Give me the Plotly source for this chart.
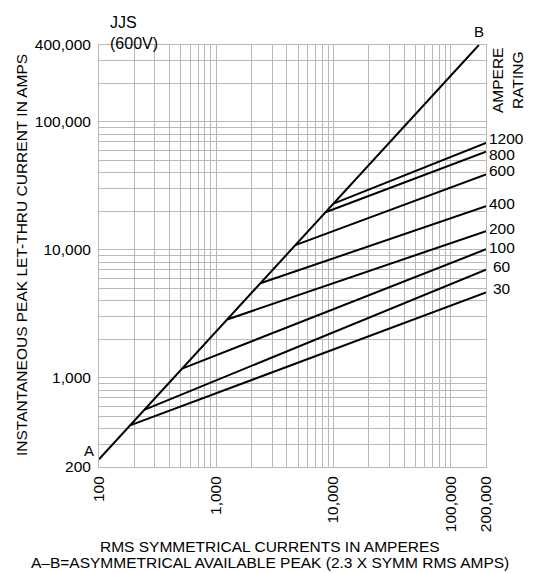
import math
import plotly.graph_objects as go

# ---- data -------------------------------------------------------------
ratings = ["1200", "800", "600", "400", "200", "100", "60", "30"]
# available RMS symmetrical current where each rating leaves the A-B line
knee_rms = [10000, 8550, 4730, 2380, 1240, 512, 243, 184]
# peak let-thru current at 200,000 A RMS available
peak_at_max = [68700, 58500, 38800, 21900, 14000, 10100, 7000, 4640]
asym_factor = 2.3                 # A-B line: peak = 2.3 x symmetrical RMS
ab_rms = [100, 173900]            # A-B line end points (RMS amps)
x_max = 200000

x_tick_vals = [100, 1000, 10000, 100000, 200000]
x_tick_text = ["100", "1,000", "10,000", "100,000", "200,000"]
y_tick_vals = [200, 1000, 10000, 100000, 400000]
y_tick_text = ["200", "1,000", "10,000", "100,000", "400,000"]

# ---- styling ----------------------------------------------------------
FONT = "Liberation Sans, Arial, Helvetica, sans-serif"
GRID = "#b9b9b9"
W, H = 539, 573
M = dict(l=99, r=53, t=45, b=106)
FS = 15.5


def minor_grid(lo, hi):
    vals = []
    d = 10 ** math.floor(math.log10(lo))
    while d < hi:
        for k in range(2, 10):
            v = k * d
            if lo < v < hi:
                vals.append(v)
        d *= 10
    return vals


fig = go.Figure()

# rating curves
for r, x0, yend in zip(ratings, knee_rms, peak_at_max):
    fig.add_trace(go.Scatter(
        x=[x0, x_max], y=[asym_factor * x0, yend], mode="lines",
        line=dict(color="black", width=2), name=r, hoverinfo="skip",
        showlegend=False))

# A-B asymmetrical available peak line
fig.add_trace(go.Scatter(
    x=ab_rms, y=[asym_factor * v for v in ab_rms], mode="lines",
    line=dict(color="black", width=2), showlegend=False, hoverinfo="skip"))

axis_common = dict(
    type="log", showgrid=True, gridcolor=GRID, gridwidth=1,
    showline=True, linecolor=GRID, linewidth=1, mirror=True,
    ticks="", zeroline=False,
    tickfont=dict(family=FONT, size=FS, color="black"),
)

fig.update_xaxes(
    **axis_common,
    range=[2, math.log10(x_max)],
    tickvals=x_tick_vals, ticktext=x_tick_text, tickangle=-90,
    ticklabelstandoff=2,
    minor=dict(tickvals=minor_grid(100, 100000), showgrid=True,
               gridcolor=GRID, gridwidth=1, ticks=""),
)
fig.update_yaxes(
    **axis_common,
    range=[math.log10(200), math.log10(400000)],
    tickvals=y_tick_vals, ticktext=y_tick_text,
    ticklabelstandoff=4,
    minor=dict(tickvals=minor_grid(200, 400000), showgrid=True,
               gridcolor=GRID, gridwidth=1, ticks=""),
)

ann = []
# rating labels at the right edge
nudges = {"1200": (1, 4), "800": (1, -3), "600": (1, 4), "400": (1, 3),
          "200": (1, 3), "100": (1, 2), "60": (5, 3), "30": (5, 4)}
for r, yend in zip(ratings, peak_at_max):
    dx, dy = nudges[r]
    ann.append(dict(x=1, xref="paper", y=math.log10(yend), yref="y",
                    xanchor="left", yanchor="middle", xshift=dx, yshift=dy,
                    text=r, showarrow=False,
                    font=dict(family=FONT, size=FS, color="black")))

# end point letters
ann.append(dict(x=math.log10(ab_rms[1]), y=math.log10(400000), xref="x", yref="y",
                text="B", showarrow=False, yanchor="bottom", yshift=3,
                font=dict(family=FONT, size=15, color="black")))
ann.append(dict(x=0, xref="paper", y=math.log10(200), yref="y",
                text="A", showarrow=False, xanchor="right", yanchor="bottom",
                xshift=-3, yshift=6,
                font=dict(family=FONT, size=15, color="black")))

# product title
ann.append(dict(x=108, y=H - 12, xref="paper", yref="paper",
                text="JJS<br>(600V)", showarrow=False, align="left",
                xanchor="left", yanchor="top",
                font=dict(family=FONT, size=16, color="black")))

# ampere rating header
ann.append(dict(x=507, y=H - 81, xref="paper", yref="paper",
                text="AMPERE<br>RATING", textangle=-90, showarrow=False,
                xanchor="center", yanchor="middle",
                font=dict(family=FONT, size=FS, color="black")))

# axis titles
ann.append(dict(x=21, y=H - 255, xref="paper", yref="paper",
                text="INSTANTANEOUS PEAK LET-THRU CURRENT IN AMPS",
                textangle=-90, showarrow=False, xanchor="center", yanchor="middle",
                font=dict(family=FONT, size=FS, color="black")))
ann.append(dict(x=270, y=H - 546, xref="paper", yref="paper",
                text="RMS SYMMETRICAL CURRENTS IN AMPERES",
                showarrow=False, xanchor="center", yanchor="middle",
                font=dict(family=FONT, size=FS, color="black")))
ann.append(dict(x=270, y=H - 562, xref="paper", yref="paper",
                text="A\u2013B=ASYMMETRICAL AVAILABLE PEAK (2.3 X SYMM RMS AMPS)",
                showarrow=False, xanchor="center", yanchor="middle",
                font=dict(family=FONT, size=FS, color="black")))

# convert the pixel-placed annotations to paper fractions
pw = W - M["l"] - M["r"]
ph = H - M["t"] - M["b"]
for a in ann:
    if a.get("xref") == "paper" and a["x"] > 1.5:
        a["x"] = (a["x"] - M["l"]) / pw
    if a.get("yref") == "paper" and a["y"] > 1.5:
        a["y"] = (a["y"] - M["b"]) / ph

fig.update_layout(
    width=W, height=H, margin=M,
    paper_bgcolor="white", plot_bgcolor="white",
    annotations=ann, showlegend=False,
    font=dict(family=FONT, color="black"),
)

fig.write_html("out.html")
